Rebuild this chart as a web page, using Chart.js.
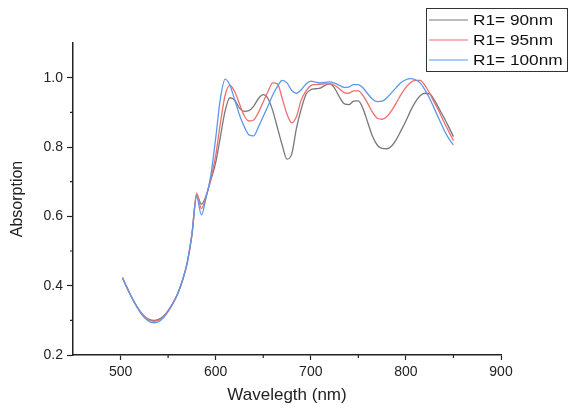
<!DOCTYPE html>
<html>
<head>
<meta charset="utf-8">
<script src="https://cdn.jsdelivr.net/npm/chart.js@4.4.1/dist/chart.umd.min.js"></script>
<style>
  html, body { margin: 0; padding: 0; background: #fff; }
</style>
</head>
<body>
<canvas id="absChart" width="569" height="410"></canvas>
<script>
const wavelengths = [502, 505, 510, 515, 520, 525, 530, 535, 540, 545, 550, 555, 560, 565, 570, 575, 580, 585, 590, 595,
  600, 605, 610, 615, 620, 625, 630, 635, 640, 645, 650, 655, 660, 665, 670, 675, 680, 685, 690, 695,
  700, 705, 710, 715, 720, 725, 730, 735, 740, 745, 750, 755, 760, 765, 770, 775, 780, 785, 790, 795,
  800, 805, 810, 815, 820, 825, 830, 835, 840, 845, 850];

const r90 = [0.423, 0.405, 0.376, 0.350, 0.328, 0.312, 0.303, 0.300, 0.303, 0.312, 0.328, 0.350, 0.377, 0.415, 0.465, 0.545, 0.662, 0.635, 0.660, 0.705,
  0.755, 0.830, 0.905, 0.942, 0.935, 0.912, 0.903, 0.905, 0.918, 0.940, 0.951, 0.940, 0.905, 0.855, 0.805, 0.765, 0.780, 0.855, 0.910, 0.952,
  0.965, 0.968, 0.970, 0.978, 0.982, 0.970, 0.945, 0.925, 0.922, 0.932, 0.933, 0.910, 0.870, 0.830, 0.805, 0.796, 0.795, 0.803, 0.822, 0.848,
  0.875, 0.905, 0.930, 0.948, 0.955, 0.953, 0.935, 0.910, 0.885, 0.858, 0.830];

const r95 = [0.423, 0.405, 0.376, 0.350, 0.328, 0.311, 0.301, 0.297, 0.300, 0.310, 0.327, 0.349, 0.376, 0.414, 0.465, 0.548, 0.667, 0.622, 0.658, 0.710,
  0.775, 0.870, 0.950, 0.978, 0.960, 0.925, 0.890, 0.875, 0.878, 0.900, 0.930, 0.960, 0.985, 0.982, 0.940, 0.895, 0.870, 0.888, 0.936, 0.962,
  0.977, 0.980, 0.981, 0.982, 0.982, 0.978, 0.968, 0.957, 0.955, 0.962, 0.962, 0.948, 0.925, 0.900, 0.883, 0.880, 0.888, 0.905, 0.928, 0.952,
  0.972, 0.986, 0.992, 0.992, 0.978, 0.955, 0.928, 0.902, 0.872, 0.845, 0.818];

const r100 = [0.423, 0.404, 0.375, 0.349, 0.326, 0.308, 0.297, 0.293, 0.296, 0.307, 0.325, 0.348, 0.376, 0.414, 0.465, 0.548, 0.657, 0.604, 0.655, 0.720,
  0.825, 0.940, 0.996, 0.978, 0.936, 0.893, 0.859, 0.835, 0.832, 0.858, 0.888, 0.918, 0.950, 0.975, 0.992, 0.985, 0.963, 0.955, 0.965, 0.982,
  0.990, 0.987, 0.985, 0.986, 0.988, 0.984, 0.978, 0.972, 0.973, 0.980, 0.980, 0.970, 0.953, 0.938, 0.931, 0.932, 0.942, 0.957, 0.972, 0.986,
  0.994, 0.997, 0.994, 0.985, 0.965, 0.940, 0.910, 0.880, 0.850, 0.825, 0.806];

const seriesLabels = ['R1= 90nm', 'R1= 95nm', 'R1= 100nm'];
const xTicks = [500, 600, 700, 800, 900];
const xMinor = [550, 650, 750, 850];
const yTicks = [0.2, 0.4, 0.6, 0.8, 1.0];
const yMinor = [0.3, 0.5, 0.7, 0.9];

const colors = ['#787878', '#f26d6d', '#5a98ee'];

function pts(values) {
    return wavelengths.map((w, i) => ({ x: w, y: values[i] }));
}

// minor ticks and the boxed legend
const extras = {
    id: 'extras',
    afterDraw(chart) {
        const ctx = chart.ctx;
        const xs = chart.scales.x;
        const ys = chart.scales.y;
        ctx.save();
        ctx.strokeStyle = '#222';
        ctx.lineWidth = 1.2;
        ctx.beginPath();
        xMinor.forEach(v => {
            const px = xs.getPixelForValue(v);
            ctx.moveTo(px, ys.bottom);
            ctx.lineTo(px, ys.bottom + 3);
        });
        yMinor.forEach(v => {
            const py = ys.getPixelForValue(v);
            ctx.moveTo(xs.left, py);
            ctx.lineTo(xs.left - 3, py);
        });
        ctx.stroke();

        // legend box
        ctx.strokeStyle = '#333';
        ctx.lineWidth = 1;
        ctx.strokeRect(426.5, 8.5, 141, 63);
        const rows = [20, 40, 60];
        chart.data.datasets.forEach((ds, i) => {
            ctx.strokeStyle = ds.borderColor;
            ctx.lineWidth = 1.2;
            ctx.beginPath();
            ctx.moveTo(429, rows[i]);
            ctx.lineTo(468, rows[i]);
            ctx.stroke();
            ctx.save();
            ctx.translate(473, rows[i]);
            ctx.scale(1.15, 1);
            ctx.fillStyle = '#111';
            ctx.font = '15px "Liberation Sans", Arial, sans-serif';
            ctx.textBaseline = 'middle';
            ctx.fillText(ds.label, 0, 1);
            ctx.restore();
        });
        ctx.restore();
    }
};

new Chart(document.getElementById('absChart').getContext('2d'), {
    type: 'line',
    data: {
        datasets: [
            { label: seriesLabels[0], data: pts(r90), borderColor: colors[0], order: 3 },
            { label: seriesLabels[1], data: pts(r95), borderColor: colors[1], order: 2 },
            { label: seriesLabels[2], data: pts(r100), borderColor: colors[2], order: 1 }
        ]
    },
    options: {
        responsive: false,
        animation: false,
        layout: { padding: { top: 43, right: 68, left: 0, bottom: 0 } },
        elements: {
            line: { borderWidth: 1.3, cubicInterpolationMode: 'monotone', fill: false },
            point: { radius: 0 }
        },
        plugins: {
            legend: { display: false },
            tooltip: { enabled: false }
        },
        scales: {
            x: {
                type: 'linear',
                min: 450,
                max: 900,
                afterFit(scale) { scale.height = 55; },
                afterBuildTicks(scale) { scale.ticks = xTicks.map(v => ({ value: v })); },
                border: { display: true, color: '#222', width: 1.5 },
                grid: { drawOnChartArea: false, drawTicks: true, tickLength: 5, color: '#222', tickWidth: 1.2 },
                ticks: {
                    color: '#222',
                    padding: 4,
                    maxRotation: 0,
                    font: { family: '"Liberation Sans", Arial, sans-serif', size: 14 }
                },
                title: {
                    display: true,
                    text: 'Wavelegth (nm)',
                    color: '#222',
                    padding: { top: 0, bottom: 4 },
                    font: { family: '"Liberation Sans", Arial, sans-serif', size: 17 }
                }
            },
            y: {
                type: 'linear',
                min: 0.2,
                max: 1.1,
                afterFit(scale) { scale.width = 73; },
                afterBuildTicks(scale) { scale.ticks = yTicks.map(v => ({ value: v })); },
                border: { display: true, color: '#222', width: 1.5 },
                grid: { drawOnChartArea: false, drawTicks: true, tickLength: 6, color: '#222', tickWidth: 1.2 },
                ticks: {
                    color: '#222',
                    padding: 4,
                    callback: v => v.toFixed(1),
                    font: { family: '"Liberation Sans", Arial, sans-serif', size: 14 }
                },
                title: {
                    display: true,
                    text: 'Absorption',
                    color: '#222',
                    padding: { top: 8, bottom: 0 },
                    font: { family: '"Liberation Sans", Arial, sans-serif', size: 16 }
                }
            }
        }
    },
    plugins: [extras]
});
</script>
</body>
</html>
